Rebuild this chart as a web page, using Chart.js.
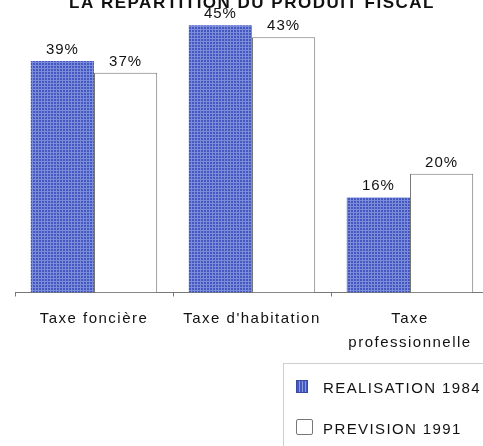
<!DOCTYPE html>
<html>
<head>
<meta charset="utf-8">
<script src="https://cdn.jsdelivr.net/npm/chart.js@4"></script>
<style>
  html, body { margin: 0; padding: 0; background: #fff; }
  #wrap { position: relative; width: 483px; height: 446px; overflow: hidden; }
  #box { position: absolute; left: 0; top: -30px; width: 500px; height: 400px; }
  #legend { position: absolute; left: 283px; top: 363px; width: 220px; height: 100px;
    border: 1px solid #cfcfcf; font-family: "Liberation Sans", Arial, sans-serif;
    font-size: 15px; letter-spacing: 1.4px; color: #111; }
  .item { position: absolute; left: 12px; height: 18px; line-height: 18px; }
  .item span.ic { position: absolute; left: 0; }
  .item span.tx { position: absolute; left: 27px; white-space: nowrap; }
</style>
</head>
<body>
<div id="wrap">
  <div id="box"><canvas id="chart"></canvas></div>
  <div id="legend"></div>
</div>
<script>
// Données : répartition du produit fiscal (%)
const categories = ["Taxe foncière", "Taxe d'habitation", ["Taxe", "professionnelle"]];
const realisation1984 = [39, 45, 16];
const prevision1991 = [37, 43, 20];
const seriesLabels = ['REALISATION 1984', 'PREVISION 1991'];

// motif bleu tramé
function trame() {
    const c = document.createElement('canvas');
    c.width = 3; c.height = 3;
    const g = c.getContext('2d');
    g.fillStyle = '#4558c0';
    g.fillRect(0, 0, 3, 3);
    g.fillStyle = '#7b8dda';
    g.fillRect(2, 0, 1, 3);
    g.fillRect(0, 2, 3, 1);
    return g.createPattern(c, 'repeat');
}
const bleu = trame();

const espacement = {
    id: 'espacement',
    beforeLayout(chart) { chart.ctx.letterSpacing = '1.5px'; },
    beforeDraw(chart) { chart.ctx.letterSpacing = '1.5px'; }
};

const etiquettes = {
    id: 'etiquettes',
    afterDatasetsDraw(chart) {
        const ctx = chart.ctx;
        ctx.save();
        ctx.letterSpacing = '1px';
        ctx.font = '15px "Liberation Sans", Arial, sans-serif';
        ctx.fillStyle = '#111';
        ctx.textAlign = 'center';
        ctx.textBaseline = 'alphabetic';
        chart.data.datasets.forEach((ds, i) => {
            chart.getDatasetMeta(i).data.forEach((bar, j) => {
                ctx.fillText(ds.data[j] + '%', bar.x, bar.y - 7);
            });
        });
        ctx.restore();
    }
};

const config = {
    type: 'bar',
    data: {
        labels: categories,
        datasets: [
            {
                label: seriesLabels[0],
                data: realisation1984,
                backgroundColor: bleu,
                borderWidth: 0
            },
            {
                label: seriesLabels[1],
                data: prevision1991,
                backgroundColor: '#ffffff',
                borderColor: '#777777',
                borderWidth: 1
            }
        ]
    },
    options: {
        responsive: true,
        maintainAspectRatio: false,
        animation: false,
        categoryPercentage: 0.8,
        barPercentage: 1.0,
        layout: { padding: { left: 15, right: 11, top: 8, bottom: 5 } },
        plugins: {
            legend: { display: false },
            tooltip: { enabled: false },
            title: {
                display: true,
                text: 'LA REPARTITION DU PRODUIT FISCAL',
                color: '#111',
                font: { family: '"Liberation Sans", Arial, sans-serif', size: 17, weight: 'bold' },
                padding: { top: 15, bottom: 0 }
            }
        },
        scales: {
            x: {
                grid: { display: true, drawOnChartArea: false, drawTicks: true, tickLength: 4, color: '#777' },
                border: { display: true, color: '#777', width: 1 },
                ticks: {
                    color: '#111',
                    padding: 11,
                    font: { family: '"Liberation Sans", Arial, sans-serif', size: 15, lineHeight: 1.55 }
                }
            },
            y: {
                display: false,
                min: 0,
                max: 47
            }
        }
    },
    plugins: [espacement, etiquettes]
};

const chart = new Chart(document.getElementById('chart'), config);

// légende
const leg = document.getElementById('legend');
const icones = [
    'top: 1px; width: 12px; height: 13px; background: repeating-linear-gradient(90deg,#4558c0 0 2px,#8c9be0 2px 3px), #4558c0; border: 1px solid #3a4aa0; box-sizing: border-box;',
    'top: -1px; width: 17px; height: 16px; background: #fff; border: 1px solid #777; box-sizing: border-box; border-radius: 2px;'
];
const tops = [15, 56];
seriesLabels.forEach((lab, i) => {
    const d = document.createElement('div');
    d.className = 'item';
    d.style.top = tops[i] + 'px';
    d.innerHTML = '<span class="ic" style="' + icones[i] + '"></span><span class="tx"></span>';
    d.querySelector('.tx').textContent = lab;
    leg.appendChild(d);
});
</script>
</body>
</html>
